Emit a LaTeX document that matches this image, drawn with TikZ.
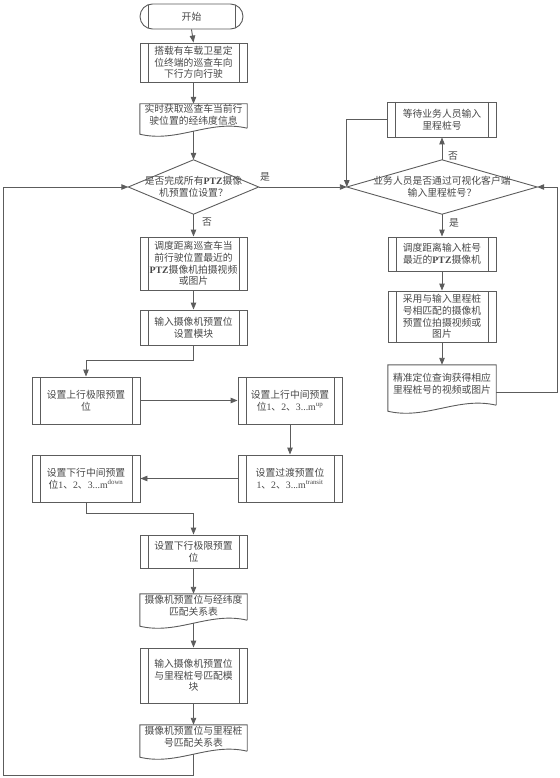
\documentclass[tikz,border=0pt]{standalone}
\usepackage{fontspec}
\setmainfont{Noto Sans CJK SC}
\newfontfamily\lat{Liberation Serif}
\usetikzlibrary{arrows.meta,calc}
\definecolor{lc}{HTML}{5C5C5C}
\definecolor{tc}{HTML}{474747}
% document outline: wave baseline lies 5pt below the text box
\newcommand\docoutline[1]{%
  \coordinate (#1-b) at ($(#1.south)+(0,5)$);
  \coordinate (#1-bw) at ($(#1.south west)+(0,5)$);
  \coordinate (#1-be) at ($(#1.south east)+(0,5)$);
  \draw[line] ($(#1-be)+(0,-3)$) -- (#1.north east) -- (#1.north west) -- ($(#1-bw)+(0,3)$)
   .. controls ($(#1-bw)!0.35!(#1-be)+(0,12)$) and ($(#1-bw)!0.65!(#1-be)+(0,-12)$) .. ($(#1-be)+(0,-3)$);}
\newcommand\diamondoutline[1]{%
  \draw[line] (#1.west) -- (#1.north) -- (#1.east) -- (#1.south) -- cycle;}
\begin{document}
\begin{tikzpicture}[x=1pt,y=-1pt,
  every node/.style={font=\fontsize{9.8}{11.7}\selectfont, text=tc, inner sep=0pt},
  line/.style={draw=lc, line width=0.9pt},
  arr/.style={line, -{Triangle[length=7pt,width=5.5pt]}},
  inlines/.style={path picture={\draw[draw=lc, line width=0.9pt]
      ([xshift=#1]path picture bounding box.north west) -- ([xshift=#1]path picture bounding box.south west)
      ([xshift=-#1]path picture bounding box.north east) -- ([xshift=-#1]path picture bounding box.south east);}},
  prebox/.style={line, align=center, inlines=8pt},
  term/.style={line, align=center, rounded corners=12.5pt, inlines=8pt},
  docbox/.style={align=center},
  decision/.style={align=center}
]
\useasboundingbox (0,0) rectangle (559,778);

% main column
\node[term, minimum width=103pt, minimum height=25pt] (st) at (191.5,16.5) {开始};
\node[prebox, minimum width=107pt, minimum height=39pt] (p1) at (193.5,62.5) {搭载有车载卫星定\\位终端的巡查车向\\下行方向行驶};
\node[docbox, minimum width=107pt, minimum height=22pt] (d1) at (193.5,115) {实时获取巡查车当前行\\驶位置的经纬度信息};
\docoutline{d1}
\node[decision, minimum width=130pt, minimum height=54pt] (q1) at (193.5,187) {是否完成所有{\lat\bfseries PTZ}摄像\\机预置位设置？};
\diamondoutline{q1}
\node[prebox, minimum width=107pt, minimum height=53pt] (p2) at (193.5,263.5) {调度距离巡查车当\\前行驶位置最近的\\{\lat\bfseries PTZ}摄像机拍摄视频\\或图片};
\node[prebox, minimum width=107pt, minimum height=35pt] (p3) at (193.5,327.5) {输入摄像机预置位\\设置模块};

\node[prebox, minimum width=108pt, minimum height=47pt] (A) at (86,400.5) {设置上行极限预置\\位};
\node[prebox, minimum width=104pt, minimum height=47pt] (B) at (290,400.5) {设置上行中间预置\\位{\lat 1}、{\lat 2}、{\lat 3...m\textsuperscript{up}}};
\node[prebox, minimum width=104pt, minimum height=47pt] (C) at (290,478.5) {设置过渡预置位\\{\lat 1}、{\lat 2}、{\lat 3...m\textsuperscript{transit}}};
\node[prebox, minimum width=108pt, minimum height=47pt] (D) at (86,478.5) {设置下行中间预置\\位{\lat 1}、{\lat 2}、{\lat 3...m\textsuperscript{down}}};

\node[prebox, minimum width=107pt, minimum height=33pt] (E) at (193.5,551.5) {设置下行极限预置\\位};
\node[docbox, minimum width=107pt, minimum height=24pt] (d2) at (193.5,606) {摄像机预置位与经纬度\\匹配关系表};
\docoutline{d2}
\node[prebox, minimum width=107pt, minimum height=55pt] (F) at (193.5,675.5) {输入摄像机预置位\\与里程桩号匹配模\\块};
\node[docbox, minimum width=107pt, minimum height=24pt] (d3) at (193.5,737) {摄像机预置位与里程桩\\号匹配关系表};
\docoutline{d3}

% right column
\node[prebox, minimum width=109pt, minimum height=35pt] (W) at (442,119.5) {等待业务人员输入\\里程桩号};
\node[decision, minimum width=190pt, minimum height=54pt] (q2) at (442,187) {业务人员是否通过可视化客户端\\输入里程桩号？};
\diamondoutline{q2}
\node[prebox, minimum width=108pt, minimum height=34pt] (G) at (442,254) {调度距离输入桩号\\最近的{\lat\bfseries PTZ}摄像机};
\node[prebox, minimum width=108pt, minimum height=51pt] (H) at (442,316.5) {采用与输入里程桩\\号相匹配的摄像机\\预置位拍摄视频或\\图片};
\node[docbox, minimum width=108pt, minimum height=38pt] (d4) at (442,384) {精准定位查询获得相应\\里程桩号的视频或图片};
\docoutline{d4}

% labels
\node (l1) at (265,177) {是};
\node (l2) at (207,222) {否};
\node (l3) at (453,156) {否};
\node (l4) at (454,223) {是};

% connectors
\draw[arr] (st.south) -- (p1.north);
\draw[arr] (p1.south) -- (d1.north);
\draw[arr] (d1-b) -- (q1.north);
\draw[arr] (q1.south) -- (p2.north);
\draw[arr] (p2.south) -- (p3.north);
\draw[arr] (p3.south) -- ++(0,15) -| (A.north);
\draw[arr] (A.east) -- (B.west);
\draw[arr] (B.south) -- (C.north);
\draw[arr] (C.west) -- (D.east);
\draw[arr] (D.south) -- ++(0,11) -| (E.north);
\draw[arr] (E.south) -- (d2.north);
\draw[arr] (d2-b) -- (F.north);
\draw[arr] (F.south) -- (d3.north);
\coordinate (lb) at (3,775);
\draw[arr] (d3-b) |- (lb) |- (q1.west);

\draw[arr] (q1.east) -- (q2.west);
\draw[arr] (q2.north) -- (W.south);
\draw[arr] (W.west) -| (q2.west);
\draw[arr] (q2.south) -- (G.north);
\draw[arr] (G.south) -- (H.north);
\draw[arr] (H.south) -- (d4.north);
\coordinate (rb) at (557,392);
\draw[arr] ([yshift=-8pt]d4.east) -- (rb) |- (q2.east);
\end{tikzpicture}
\end{document}
